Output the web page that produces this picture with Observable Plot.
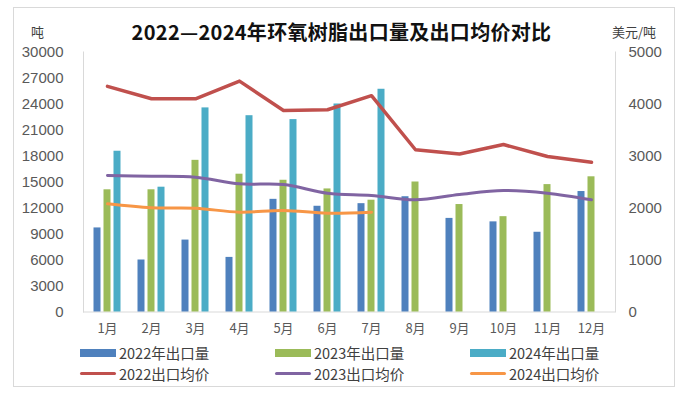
<!DOCTYPE html>
<html>
<head>
<meta charset="utf-8">
<script src="https://cdn.jsdelivr.net/npm/d3@7"></script>
<script src="https://cdn.jsdelivr.net/npm/@observablehq/plot@0.6"></script>
<style>
  body { margin: 0; background: #fff; }
  #wrap { position: relative; width: 683px; height: 397px; overflow: hidden; font-family: "Noto Sans CJK SC", "Noto Sans", sans-serif; }
  #border { position: absolute; left: 13px; top: 7px; width: 662px; height: 380px; border: 1px solid #d9d9d9; box-sizing: border-box; }
  #chart { position: absolute; left: 0; top: 0; }
  #title { position: absolute; left: 0; top: 17px; width: 683px; text-align: center; font-size: 20px; font-weight: 700; color: #111; letter-spacing: 0.3px; }
  .unit { position: absolute; top: 22px; font-size: 13px; color: #404040; }
  #legend { position: absolute; left: 80px; top: 343px; display: grid; grid-template-columns: 195px 195px 195px; row-gap: 2px; font-size: 14.5px; color: #404040; }
  .item { display: flex; align-items: center; height: 19px; white-space: nowrap; }
  .sw { display: inline-block; width: 36px; margin-right: 3px; }
</style>
</head>
<body>
<div id="wrap">
  <div id="border"></div>
  <div id="chart"></div>
  <div id="title"></div>
  <div class="unit" id="unitL" style="left:31px"></div>
  <div class="unit" id="unitR" style="left:612px"></div>
  <div id="legend"></div>
</div>
<script>
// ---- data ----
const titleText = "2022—2024年环氧树脂出口量及出口均价对比";
const unitLeft = "吨";
const unitRight = "美元/吨";
const months = ["1月","2月","3月","4月","5月","6月","7月","8月","9月","10月","11月","12月"];
const volumeTicks = [0,3000,6000,9000,12000,15000,18000,21000,24000,27000,30000];
const priceTicks = [0,1000,2000,3000,4000,5000];

const vol2022 = [9700, 6000, 8300, 6300, 13000, 12200, 12500, 13300, 10800, 10400, 9200, 13900];
const vol2023 = [14100, 14100, 17500, 15900, 15200, 14200, 12900, 15000, 12400, 11000, 14700, 15600];
const vol2024 = [18550, 14400, 23550, 22650, 22200, 24000, 25700];

const price2022 = [4340, 4100, 4100, 4440, 3875, 3890, 4160, 3120, 3040, 3220, 2990, 2880];
const price2023 = [2625, 2612, 2593, 2465, 2452, 2285, 2240, 2157, 2260, 2337, 2285, 2157];
const price2024 = [2080, 2004, 1996, 1920, 1952, 1900, 1920];

const barNames = ["2022年出口量", "2023年出口量", "2024年出口量"];
const lineNames = ["2022出口均价", "2023出口均价", "2024出口均价"];
const barColors = ["#4f81bd", "#9bbb59", "#4bacc6"];
const lineColors = ["#c0504d", "#8064a2", "#f79646"];

// ---- derived tables ----
const ratio = 30000 / 5000; // right axis mapped onto left scale
const toRows = (vals) => vals.map((v, i) => ({month: months[i], value: v}));
const bars = [vol2022, vol2023, vol2024].map(toRows);
const lines = [price2022, price2023, price2024].map(toRows);
const curves = ["linear", "catmull-rom", "catmull-rom"];

const gray = "#595959";
const chart = Plot.plot({
  width: 683,
  height: 397,
  marginLeft: 83,
  marginRight: 68,
  marginTop: 51.5,
  marginBottom: 85.5,
  style: {background: "transparent", fontFamily: "'Liberation Sans', Arial, sans-serif", color: gray},
  x: {domain: months, padding: 0, axis: null, label: null},
  y: {domain: [0, 30000], axis: null, label: null},
  marks: [
    Plot.frame({anchor: "left", stroke: "#d9d9d9"}),
    Plot.frame({anchor: "right", stroke: "#d9d9d9"}),
    Plot.ruleY([0], {stroke: "#d9d9d9"}),
    Plot.axisY({ticks: volumeTicks, tickSize: 0, tickPadding: 20, fontSize: 15, fill: gray, label: null, tickFormat: d => String(d)}),
    Plot.axisY({anchor: "right", ticks: priceTicks.map(d => d * ratio), tickSize: 0, tickPadding: 13, fontSize: 15, fill: gray, label: null, tickFormat: d => String(d / ratio)}),
    Plot.axisX({tickSize: 0, tickPadding: 12, fontSize: 13, fill: gray, label: null, fontFamily: "'Noto Sans CJK SC', sans-serif"}),
    ...bars.map((rows, k) => Plot.barY(rows, {x: "month", y: "value", fill: barColors[k], insetLeft: 18.5, insetRight: 18.5, dx: (k - 1) * 10})),
    ...lines.map((rows, k) => Plot.lineY(rows, {x: "month", y: d => d.value * ratio, stroke: lineColors[k], strokeWidth: k === 0 ? 3.5 : 3, curve: curves[k], strokeLinecap: "round", strokeLinejoin: "round"}))
  ]
});
document.getElementById("chart").appendChild(chart);

document.getElementById("title").textContent = titleText;
document.getElementById("unitL").textContent = unitLeft;
document.getElementById("unitR").textContent = unitRight;

const legend = document.getElementById("legend");
const addItem = (name, color, isLine) => {
  const item = document.createElement("div");
  item.className = "item";
  const sw = document.createElement("span");
  sw.className = "sw";
  sw.style.height = isLine ? "3px" : "8px";
  sw.style.background = color;
  if (isLine) sw.style.borderRadius = "2px";
  item.appendChild(sw);
  item.appendChild(document.createTextNode(name));
  legend.appendChild(item);
};
barNames.forEach((n, k) => addItem(n, barColors[k], false));
lineNames.forEach((n, k) => addItem(n, lineColors[k], true));
</script>
</body>
</html>
